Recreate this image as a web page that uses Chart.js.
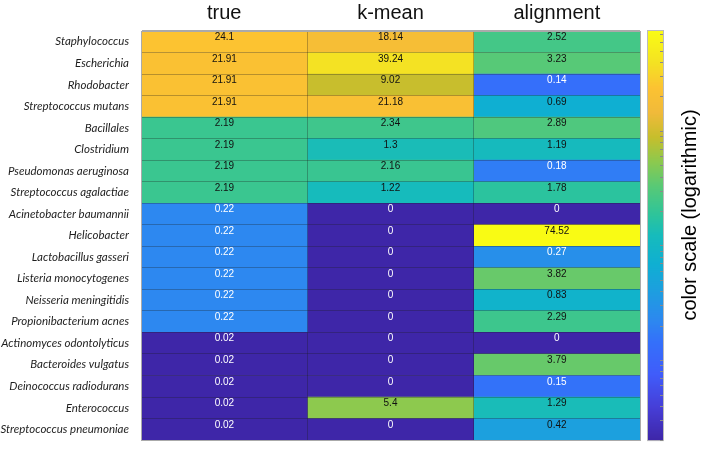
<!DOCTYPE html>
<html>
<head>
<meta charset="utf-8">
<script src="https://cdn.jsdelivr.net/npm/chart.js@4.4.1/dist/chart.umd.min.js"></script>
<style>
  html, body { margin: 0; padding: 0; background: #fff; }
  #wrap { width: 702px; height: 459px; }
</style>
</head>
<body>
<div id="wrap"><canvas id="heat" width="702" height="459"></canvas></div>
<script>
const species = [
  "Staphylococcus", "Escherichia", "Rhodobacter", "Streptococcus mutans",
  "Bacillales", "Clostridium", "Pseudomonas aeruginosa", "Streptococcus agalactiae",
  "Acinetobacter baumannii", "Helicobacter", "Lactobacillus gasseri",
  "Listeria monocytogenes", "Neisseria meningitidis", "Propionibacterium acnes",
  "Actinomyces odontolyticus", "Bacteroides vulgatus", "Deinococcus radiodurans",
  "Enterococcus", "Streptococcus pneumoniae"
];
const methods = ["true", "k-mean", "alignment"];
const trueVals = [24.1, 21.91, 21.91, 21.91, 2.19, 2.19, 2.19, 2.19, 0.22, 0.22, 0.22, 0.22, 0.22, 0.22, 0.02, 0.02, 0.02, 0.02, 0.02];
const kmeanVals = [18.14, 39.24, 9.02, 21.18, 2.34, 1.3, 2.16, 1.22, 0, 0, 0, 0, 0, 0, 0, 0, 0, 5.4, 0];
const alignVals = [2.52, 3.23, 0.14, 0.69, 2.89, 1.19, 0.18, 1.78, 0, 74.52, 0.27, 3.82, 0.83, 2.29, 0, 3.79, 0.15, 1.29, 0.42];
const columns = [trueVals, kmeanVals, alignVals];
const scaleTitle = "color scale (logarithmic)";

// parula-like colour stops (position, r, g, b)
const parula = [
  [0.00, 62, 38, 168],
  [0.08, 70, 62, 215],
  [0.16, 64, 92, 250],
  [0.24, 52, 112, 250],
  [0.29, 45, 135, 240],
  [0.37, 28, 160, 222],
  [0.43, 15, 175, 210],
  [0.50, 22, 187, 188],
  [0.55, 45, 196, 155],
  [0.62, 88, 201, 118],
  [0.68, 140, 201, 78],
  [0.74, 198, 190, 44],
  [0.80, 240, 186, 58],
  [0.86, 252, 194, 50],
  [0.92, 244, 225, 35],
  [1.00, 249, 251, 20]
];

const positives = columns.flat().filter(v => v > 0);
const lo = Math.min(...positives);
const hi = Math.max(...positives);

function rgbFor(v) {
  const t = (Math.log10(Math.max(v, lo)) - Math.log10(lo)) / (Math.log10(hi) - Math.log10(lo));
  const u = Math.min(1, Math.max(0, t));
  for (let i = 1; i < parula.length; i++) {
    const a = parula[i - 1], b = parula[i];
    if (u <= b[0]) {
      const f = (u - a[0]) / (b[0] - a[0]);
      return [1, 2, 3].map(k => Math.round(a[k] + (b[k] - a[k]) * f));
    }
  }
  return parula[parula.length - 1].slice(1);
}
function colorFor(v) {
  const c = rgbFor(v);
  return "rgb(" + c.join(",") + ")";
}
function textColor(v) {
  const c = rgbFor(v);
  const lum = 0.299 * c[0] + 0.587 * c[1] + 0.114 * c[2];
  return lum < 126 ? "#ffffff" : "#111111";
}

const edge = "#aaaaaa";
const inner = "rgba(30,30,30,0.3)";

const heatPlugin = {
  id: "heatExtras",
  afterDraw(chart) {
    const ctx = chart.ctx;
    ctx.save();
    // numbers in the cells
    ctx.font = "10px 'Liberation Sans', Arial, sans-serif";
    ctx.textAlign = "center";
    ctx.textBaseline = "middle";
    columns.forEach((vals, c) => {
      chart.getDatasetMeta(c).data.forEach((bar, i) => {
        ctx.fillStyle = textColor(vals[i]);
        ctx.fillText(String(vals[i]), (bar.x + bar.base) / 2, bar.y - 4.5);
      });
    });

    // colour bar
    const cb = chart.scales.cb;
    const x0 = cb.left + 8, w = 15;
    for (let y = Math.floor(cb.top); y < Math.ceil(cb.bottom); y++) {
      ctx.fillStyle = colorFor(cb.getValueForPixel(y + 0.5));
      ctx.fillRect(x0, y, w, 1);
    }
    ctx.strokeStyle = "#bbbbbb";
    ctx.lineWidth = 1;
    ctx.strokeRect(x0 - 0.5, cb.top - 0.5, w + 1, cb.bottom - cb.top + 1);
    ctx.strokeStyle = "#8a8a8a";
    ctx.beginPath();
    for (let e = -3; e <= 3; e++) {
      for (let m = 1; m <= 9; m++) {
        const v = m * Math.pow(10, e);
        if (v < lo || v > hi) continue;
        const y = Math.round(cb.getPixelForValue(v)) + 0.5;
        ctx.moveTo(x0 + w, y);
        ctx.lineTo(x0 + w - 3, y);
      }
    }
    ctx.stroke();

    // colour bar title
    ctx.fillStyle = "#000";
    ctx.font = "20px 'Liberation Sans', Arial, sans-serif";
    ctx.translate(cb.left + 50, 215);
    ctx.rotate(-Math.PI / 2);
    ctx.textAlign = "center";
    ctx.textBaseline = "middle";
    ctx.fillText(scaleTitle, 0, 0);
    ctx.restore();
  }
};

new Chart(document.getElementById("heat"), {
  type: "bar",
  data: {
    labels: species,
    datasets: columns.map((vals, c) => ({
      label: methods[c],
      data: vals.map(() => 1),
      backgroundColor: vals.map(colorFor),
      borderWidth: 0,
      barPercentage: 1,
      categoryPercentage: 1
    }))
  },
  options: {
    indexAxis: "y",
    responsive: false,
    animation: false,
    devicePixelRatio: 1,
    layout: { padding: 0 },
    plugins: { legend: { display: false }, tooltip: { enabled: false } },
    scales: {
      x: {
        type: "linear",
        position: "bottom",
        stacked: true,
        min: 0,
        max: 3,
        ticks: { display: false, stepSize: 1 },
        grid: {
          z: 1,
          drawTicks: false,
          color: ctx => (ctx.tick && (ctx.tick.value === 0 || ctx.tick.value === 3)) ? edge : inner
        },
        border: { display: true, color: edge, z: 1 },
        afterFit: s => { s.height = 2; }
      },
      xTop: {
        type: "category",
        axis: "x",
        labels: methods,
        position: "top",
        offset: true,
        grid: { display: false, drawTicks: false },
        border: { display: true, color: edge, z: 1 },
        ticks: {
          color: "#111",
          padding: 6,
          font: { family: "'Liberation Sans', Arial, sans-serif", size: 20 }
        },
        afterFit: s => { s.height = 31; }
      },
      y: {
        type: "category",
        stacked: true,
        grid: {
          z: 1,
          offset: true,
          drawTicks: false,
          color: ctx => (ctx.type !== "tick" || ctx.index === 0) ? edge : inner
        },
        border: { display: true, color: edge, z: 1 },
        ticks: {
          color: "#1e1e1e",
          padding: 12,
          font: { family: "Lato, 'Open Sans', sans-serif", size: 11.5, style: "italic" }
        },
        afterFit: s => { s.width = 141; }
      },
      cb: {
        type: "logarithmic",
        axis: "y",
        position: "right",
        min: lo,
        max: hi,
        ticks: { display: false },
        grid: { display: false, drawTicks: false },
        border: { display: false },
        afterFit: s => { s.width = 62; }
      }
    }
  },
  plugins: [heatPlugin]
});
</script>
</body>
</html>
